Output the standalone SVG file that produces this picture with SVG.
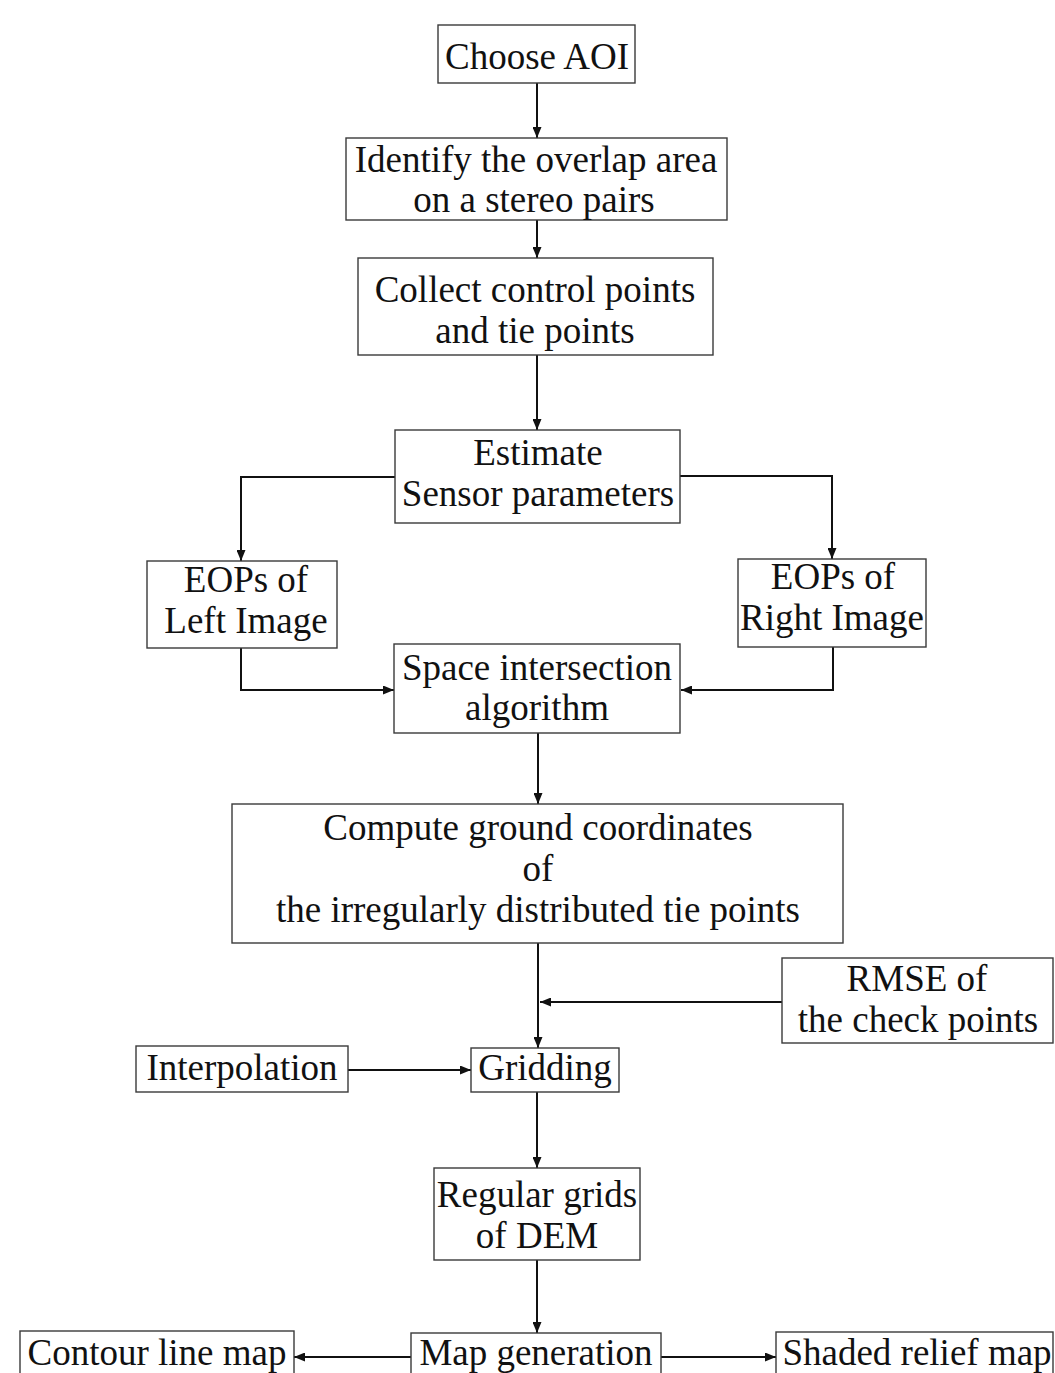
<svg xmlns="http://www.w3.org/2000/svg" width="1055" height="1373" viewBox="0 0 1055 1373">
<style>
  .box { fill: #ffffff; stroke: #3a3a3a; stroke-width: 1.4; }
  .t { font-family: "Liberation Serif", "Times New Roman", serif; font-size: 37px; fill: #111; text-anchor: middle; }
  .c { fill: none; stroke: #111; stroke-width: 2; marker-end: url(#arr); }
</style>
<defs>
  <marker id="arr" viewBox="0 0 11 9" refX="11" refY="4.5" markerWidth="11" markerHeight="9" markerUnits="userSpaceOnUse" orient="auto">
    <path d="M0,0 L11,4.5 L0,9 z" fill="#111"/>
  </marker>
</defs>
<rect x="0" y="0" width="1055" height="1373" fill="#ffffff"/>

<g id="connectors">
  <path class="c" d="M537,83 V138"/>
  <path class="c" d="M537,220 V258"/>
  <path class="c" d="M537,355 V430"/>
  <path class="c" d="M395,477 H241 V561"/>
  <path class="c" d="M680,476 H832 V559"/>
  <path class="c" d="M241,648 V690 H394"/>
  <path class="c" d="M833,647 V690 H681"/>
  <path class="c" d="M538,733 V804"/>
  <path class="c" d="M538,943 V1048"/>
  <path class="c" d="M782,1002 H540"/>
  <path class="c" d="M348,1070 H471"/>
  <path class="c" d="M537,1092 V1168"/>
  <path class="c" d="M537,1260 V1333"/>
  <path class="c" d="M411,1357 H294"/>
  <path class="c" d="M661,1357 H776"/>
</g>

<g id="choose-aoi">
  <rect class="box" x="438" y="25" width="197" height="58"/>
  <text class="t" x="537" y="69">Choose AOI</text>
</g>
<g id="identify-overlap">
  <rect class="box" x="346" y="138" width="381" height="82"/>
  <text class="t" x="536" y="172">Identify the overlap area</text>
  <text class="t" x="534" y="212">on a stereo pairs</text>
</g>
<g id="collect-points">
  <rect class="box" x="358" y="258" width="355" height="97"/>
  <text class="t" x="535" y="302">Collect control points</text>
  <text class="t" x="535" y="343">and tie points</text>
</g>
<g id="estimate-sensor">
  <rect class="box" x="395" y="430" width="285" height="93"/>
  <text class="t" x="538" y="465">Estimate</text>
  <text class="t" x="538" y="506">Sensor parameters</text>
</g>
<g id="eops-left">
  <rect class="box" x="147" y="561" width="190" height="87"/>
  <text class="t" x="246" y="592">EOPs of</text>
  <text class="t" x="246" y="633">Left Image</text>
</g>
<g id="eops-right">
  <rect class="box" x="738" y="559" width="188" height="88"/>
  <text class="t" x="833" y="589">EOPs of</text>
  <text class="t" x="832" y="630">Right Image</text>
</g>
<g id="space-intersection">
  <rect class="box" x="394" y="644" width="286" height="89"/>
  <text class="t" x="537" y="680">Space intersection</text>
  <text class="t" x="537" y="720">algorithm</text>
</g>
<g id="compute-ground">
  <rect class="box" x="232" y="804" width="611" height="139"/>
  <text class="t" x="538" y="840">Compute ground coordinates</text>
  <text class="t" x="538" y="881">of</text>
  <text class="t" x="538" y="922">the irregularly distributed tie points</text>
</g>
<g id="rmse">
  <rect class="box" x="782" y="958" width="271" height="85"/>
  <text class="t" x="917" y="991">RMSE of</text>
  <text class="t" x="918" y="1032">the check points</text>
</g>
<g id="interpolation">
  <rect class="box" x="136" y="1046" width="212" height="46"/>
  <text class="t" x="242" y="1080">Interpolation</text>
</g>
<g id="gridding">
  <rect class="box" x="471" y="1048" width="148" height="44"/>
  <text class="t" x="545" y="1080">Gridding</text>
</g>
<g id="regular-grids">
  <rect class="box" x="434" y="1168" width="206" height="92"/>
  <text class="t" x="537" y="1207">Regular grids</text>
  <text class="t" x="537" y="1248">of DEM</text>
</g>
<g id="contour-map">
  <rect class="box" x="20" y="1331" width="274" height="50"/>
  <text class="t" x="157" y="1365">Contour line map</text>
</g>
<g id="map-generation">
  <rect class="box" x="411" y="1333" width="250" height="48"/>
  <text class="t" x="536" y="1365">Map generation</text>
</g>
<g id="shaded-relief">
  <rect class="box" x="776" y="1332" width="277" height="49"/>
  <text class="t" x="917" y="1365">Shaded relief map</text>
</g>
</svg>
